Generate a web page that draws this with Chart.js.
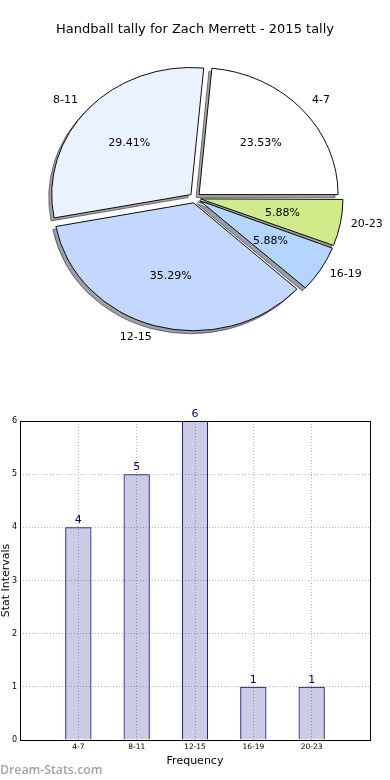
<!DOCTYPE html>
<html>
<head>
<meta charset="utf-8">
<script src="https://cdn.jsdelivr.net/npm/chart.js@4"></script>
<style>
body { margin: 0; background: #fff; width: 390px; height: 780px; position: relative; overflow: hidden; }
#pieBox { position: absolute; left: 0; top: 0; width: 390px; height: 370px; }
#barBox { position: absolute; left: 0; top: 390px; width: 390px; height: 390px; }
#mark { position: absolute; left: 0; top: 761px; font: 600 12.3px "Open Sans"; color: #a3a3a3; }
</style>
</head>
<body>
<div id="pieBox"><canvas id="c1"></canvas></div>
<div id="barBox"><canvas id="c2"></canvas></div>
<div id="mark">Dream-Stats.com</div>
<script>
var categories = ["4-7", "8-11", "12-15", "16-19", "20-23"];
var counts = [4, 5, 6, 1, 1];
var pieColors = ["#ffffff", "#ebf2ff", "#c4d8ff", "#b3d5ff", "#cfeb8a"];
var yTicks = [0, 1, 2, 3, 4, 5, 6];
var pieTitle = "Handball tally for Zach Merrett - 2015 tally";

var FONT = "'DejaVu Sans'";
var squash = 0.913; // the original pie is a little flattened
Chart.defaults.font.family = FONT;

var total = counts.reduce(function (a, b) { return a + b; }, 0);
// chart.js draws clockwise, the original went counterclockwise from east
var pieCats = categories.slice().reverse();
var pieVals = counts.slice().reverse();
var pieCols = pieColors.slice().reverse();

function flatten(ctx, cx, cy) {
  ctx.translate(cx, cy);
  ctx.scale(1, squash);
  ctx.translate(-cx, -cy);
}

var pieExtras = {
  id: "pieExtras",
  beforeDatasetsDraw: function (chart) {
    var ctx = chart.ctx;
    var arcs = chart.getDatasetMeta(0).data;
    var cx = arcs[0].x, cy = arcs[0].y;
    // shadows under all wedges
    ctx.save();
    ctx.translate(-3, 3);
    flatten(ctx, cx, cy);
    ctx.filter = "brightness(0.3) opacity(0.5)";
    arcs.forEach(function (a) { a.draw(ctx); });
    ctx.restore();
    ctx.save();
    flatten(ctx, cx, cy);
  },
  afterDatasetsDraw: function (chart) {
    var ctx = chart.ctx;
    ctx.restore();
    var arcs = chart.getDatasetMeta(0).data;
    ctx.save();
    ctx.fillStyle = "#000";
    ctx.font = "11px " + FONT;
    ctx.textBaseline = "middle";
    arcs.forEach(function (a, i) {
      var mid = (a.startAngle + a.endAngle) / 2;
      var cos = Math.cos(mid), sin = Math.sin(mid);
      var push = (a.options.offset || 0) / 4;
      var ox = a.x + cos * push, oy = a.y + sin * push * squash;
      var r = a.outerRadius;
      ctx.textAlign = cos > 0 ? "left" : "right";
      ctx.fillText(pieCats[i], ox + cos * r * 1.1, oy + sin * r * 1.1 * squash);
      ctx.textAlign = "center";
      ctx.fillText((pieVals[i] / total * 100).toFixed(2) + "%", ox + cos * r * 0.6, oy + sin * r * 0.6 * squash);
    });
    ctx.restore();
  }
};

new Chart(document.getElementById("c1"), {
  type: "pie",
  data: {
    labels: pieCats,
    datasets: [{
      data: pieVals,
      backgroundColor: pieCols,
      borderColor: "#000",
      borderWidth: 1,
      offset: 22,
      hoverOffset: 0
    }]
  },
  options: {
    responsive: true,
    maintainAspectRatio: false,
    animation: false,
    rotation: 90,
    radius: 139,
    layout: { padding: { top: 0, bottom: 21.6, left: 0, right: 0 } },
    plugins: {
      legend: { display: false },
      tooltip: { enabled: false },
      title: {
        display: true,
        text: pieTitle,
        color: "#000",
        font: { family: FONT, size: 13, weight: "normal", lineHeight: 1.2 },
        padding: { top: 22, bottom: 10 }
      }
    }
  },
  plugins: [pieExtras]
});

// bar chart: pad an empty slot each side like the original x range
var padCats = [""].concat(categories, [""]);
var padCounts = [null].concat(counts, [null]);

var barExtras = {
  id: "barExtras",
  afterDatasetsDraw: function (chart) {
    var ctx = chart.ctx, a = chart.chartArea;
    ctx.save();
    ctx.strokeStyle = "#000";
    ctx.lineWidth = 1;
    ctx.strokeRect(Math.round(a.left) + 0.5, Math.round(a.top) + 0.5,
      Math.round(a.right) - Math.round(a.left), Math.round(a.bottom) - Math.round(a.top));
    ctx.fillStyle = "#000080";
    ctx.font = "11px " + FONT;
    ctx.textAlign = "center";
    ctx.textBaseline = "alphabetic";
    chart.getDatasetMeta(0).data.forEach(function (el, i) {
      if (padCounts[i] == null) return;
      ctx.fillText(String(padCounts[i]), el.x, el.y - 4);
    });
    ctx.restore();
  }
};

new Chart(document.getElementById("c2"), {
  type: "bar",
  data: {
    labels: padCats,
    datasets: [{
      data: padCounts,
      backgroundColor: "rgba(0,0,128,0.2)",
      borderColor: "#000080",
      borderWidth: 1,
      barPercentage: 0.45,
      categoryPercentage: 1
    }]
  },
  options: {
    responsive: true,
    maintainAspectRatio: false,
    animation: false,
    layout: { padding: { top: 31, right: 20, bottom: 12, left: 0 } },
    plugins: { legend: { display: false }, tooltip: { enabled: false } },
    scales: {
      x: {
        type: "category",
        offset: false,
        grid: { color: "#b5b5b5", drawTicks: false, offset: false },
        border: { display: false, dash: [1, 2] },
        ticks: { color: "#000", font: { size: 7.5 }, padding: 3, autoSkip: false, maxRotation: 0 },
        title: { display: true, text: "Frequency", color: "#000", font: { size: 11, lineHeight: 1.2 }, padding: 0 },
        afterFit: function (s) { s.height = 28; }
      },
      y: {
        min: 0,
        max: 6,
        afterBuildTicks: function (s) { s.ticks = yTicks.map(function (v) { return { value: v }; }); },
        grid: { color: "#b5b5b5", drawTicks: false },
        border: { display: false, dash: [1, 2] },
        ticks: { color: "#000", font: { size: 8 }, padding: 3 },
        title: { display: true, text: "Stat Intervals", color: "#000", font: { size: 11, lineHeight: 1.2 }, padding: 0 },
        afterFit: function (s) { s.width = 20; }
      }
    }
  },
  plugins: [barExtras]
});
</script>
</body>
</html>
